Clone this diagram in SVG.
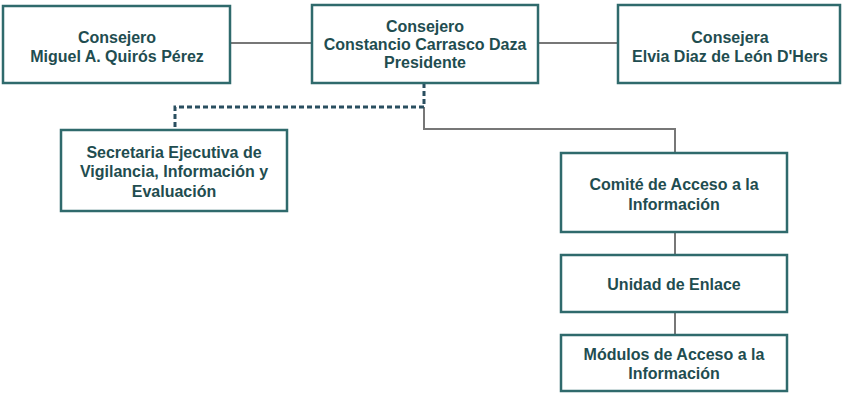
<svg xmlns="http://www.w3.org/2000/svg" width="843" height="393" viewBox="0 0 843 393">
<style>
.box{fill:#ffffff;stroke:#2f6a6c;stroke-width:2.5}
.t{font-family:"Liberation Sans",Arial,sans-serif;font-weight:bold;font-size:16px;fill:#1f4d50;text-anchor:middle}
.c{fill:none;stroke:#777777;stroke-width:2}
.d{fill:none;stroke:#2a4f60;stroke-width:3;stroke-dasharray:5,3}
</style>
<rect width="843" height="393" fill="#ffffff"/>
<g id="connectors">
<line class="c" x1="230" y1="43" x2="312" y2="43"/>
<line class="c" x1="538" y1="43" x2="618" y2="43"/>
<polyline class="c" points="424,107 424,129 675,129 675,153"/>
<line class="c" x1="675" y1="232" x2="675" y2="255"/>
<line class="c" x1="675" y1="312" x2="675" y2="335"/>
<polyline class="d" points="424,83 424,107 175,107 175,130"/>
</g>
<g id="n1">
<rect class="box" x="3" y="6" width="227" height="77"/>
<text class="t" x="117" y="43">Consejero</text>
<text class="t" x="117" y="62">Miguel A. Quirós Pérez</text>
</g>
<g id="n2">
<rect class="box" x="312" y="5" width="226" height="78"/>
<text class="t" x="425" y="32">Consejero</text>
<text class="t" x="425" y="50">Constancio Carrasco Daza</text>
<text class="t" x="425" y="68">Presidente</text>
</g>
<g id="n3">
<rect class="box" x="618" y="5" width="222" height="78"/>
<text class="t" x="730" y="43">Consejera</text>
<text class="t" x="730" y="62">Elvia Diaz de León D'Hers</text>
</g>
<g id="n4">
<rect class="box" x="61" y="130" width="226" height="81"/>
<text class="t" x="174" y="158">Secretaria Ejecutiva de</text>
<text class="t" x="174" y="177">Vigilancia, Información y</text>
<text class="t" x="174" y="197">Evaluación</text>
</g>
<g id="n5">
<rect class="box" x="561" y="153" width="226" height="79"/>
<text class="t" x="674" y="190">Comité de Acceso a la</text>
<text class="t" x="674" y="210">Información</text>
</g>
<g id="n6">
<rect class="box" x="561" y="255" width="226" height="57"/>
<text class="t" x="674" y="290">Unidad de Enlace</text>
</g>
<g id="n7">
<rect class="box" x="561" y="335" width="226" height="56"/>
<text class="t" x="674" y="360">Módulos de Acceso a la</text>
<text class="t" x="674" y="379">Información</text>
</g>
</svg>
